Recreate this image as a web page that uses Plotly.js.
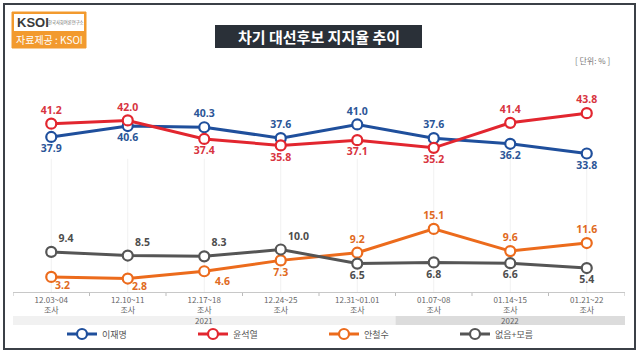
<!DOCTYPE html>
<html><head><meta charset="utf-8">
<script src="https://cdn.plot.ly/plotly-3.0.1.min.js"></script>
<style>html,body{margin:0;padding:0;background:#fff}#c{width:640px;height:354px}</style>
</head><body><div id="c"></div>
<script>
const categories = ["12.03~04","12.10~11","12.17~18","12.24~25","12.31~01.01","01.07~08","01.14~15","01.21~22"];
const tickSuffix = "조사";
const seriesNames = ["이재명","윤석열","안철수","없음+모름"];
const leeJM = [37.9, 40.6, 40.3, 37.6, 41.0, 37.6, 36.2, 33.8];
const yoonSY = [41.2, 42.0, 37.4, 35.8, 37.1, 35.2, 41.4, 43.8];
const ahnCS = [3.2, 2.8, 4.6, 7.3, 9.2, 15.1, 9.6, 11.6];
const noneDK = [9.4, 8.5, 8.3, 10.0, 6.5, 6.8, 6.6, 5.4];
const years = ["2021","2022"];
const yearSpans = [[0,4],[5,7]]; // category index ranges
const chartTitle = "차기 대선후보 지지율 추이";
const unitText = "[ 단위: % ]";
const sourceText = "자료제공 : KSOI";

const colors = ["#1f4f9c","#e2262f","#ec6b1c","#555555"];
const labelColors = ["#2b5597","#d83440","#e06a22","#4d4d4d"];
const posLee = ["bottom center","bottom center","top center","top center","top center","top center","bottom center","bottom center"];
const posYoon = ["top center","top center","bottom center","bottom center","bottom center","bottom center","top center","top center"];
const posAhn = ["bottom right","bottom right","bottom right","bottom center","top center","top center","top center","top center"];
const posNone = ["top right","top right","top right","top right","bottom center","bottom center","bottom center","bottom center"];
const ahnLowCount = 3; // first points labelled by annotation (below-right, tight)
const labelFont = {family:"Noto Sans, sans-serif", size:10.5, weight:700};

const L=13, R=625, T=70, B=292;
const px = x => (x-L)/(R-L);
const py = y => (B-y)/(B-T);

function tr(name, vals, i, pos, skip){
  return {type:"scatter", mode:"lines+markers+text", name:name, x:categories, y:vals,
    text: vals.map((v,j)=> (skip && j<skip) ? "" : v.toFixed(1)), textposition: pos,
    textfont:Object.assign({color:labelColors[i]}, labelFont),
    line:{color:colors[i], width:3},
    marker:{symbol:"circle", size:10, color:"#fff", line:{color:colors[i], width:2.2}},
    cliponaxis:false, hoverinfo:"none"};
}
const data = [tr(seriesNames[0],leeJM,0,posLee), tr(seriesNames[1],yoonSY,1,posYoon),
              tr(seriesNames[2],ahnCS,2,posAhn,ahnLowCount), tr(seriesNames[3],noneDK,3,posNone)];

const shapes = [];
shapes.push({type:"rect", xref:"paper", yref:"paper", x0:px(4), x1:px(635), y0:py(4), y1:py(349), line:{color:"#3b4047", width:2}, layer:"below"});
categories.forEach((c,i)=>shapes.push({type:"line", xref:"x", yref:"paper", x0:i, x1:i, y0:0, y1:0.6, line:{color:"#f1f1f1", width:1}, layer:"below"}));
for(let i=0;i<=categories.length;i++) shapes.push({type:"line", xref:"x", yref:"paper", x0:i-0.5, x1:i-0.5, y0:0, y1:py(296), line:{color:"#bbbbbb", width:1}, layer:"below"});
const bandCols=["#f1f1f1","#dcdcdc"];
yearSpans.forEach((s,k)=>shapes.push({type:"rect", xref:"x", yref:"paper", x0:s[0]-0.5, x1:s[1]+0.5, y0:py(325), y1:py(316), fillcolor:bandCols[k], line:{width:0}, layer:"below"}));
shapes.push({type:"rect", xref:"paper", yref:"paper", x0:px(215), x1:px(422), y0:py(48), y1:py(25), fillcolor:"#2a3038", line:{width:0}, layer:"below"});
shapes.push({type:"rect", xref:"paper", yref:"paper", x0:px(12), x1:px(86), y0:py(48), y1:py(12), fillcolor:"#f29a2e", line:{color:"#f29a2e", width:1}, layer:"below"});
shapes.push({type:"rect", xref:"paper", yref:"paper", x0:px(14), x1:px(84), y0:py(31), y1:py(14), fillcolor:"#ffffff", line:{width:0}, layer:"below"});

const annotations = [];
function ann(o){ annotations.push(Object.assign({xref:"paper", yref:"paper", showarrow:false, xanchor:"center", yanchor:"middle"}, o)); }
// tight below-right labels for the first orange points
const lowShift = [[2,-8],[2,-7],[9,-10]];
for(let j=0;j<ahnLowCount;j++) ann({xref:"x", yref:"y", x:categories[j], y:ahnCS[j], xanchor:"left", xshift:lowShift[j][0], yshift:lowShift[j][1],
  text:ahnCS[j].toFixed(1), font:Object.assign({color:labelColors[2]}, labelFont)});
yearSpans.forEach((s,k)=>ann({xref:"x", x:(s[0]+s[1])/2, y:py(320.5), text:years[k], font:{family:"Noto Sans CJK KR, sans-serif", size:8, color:"#666"}}));
ann({x:px(318.5), y:py(36.5), text:"<b>"+chartTitle+"</b>", font:{family:"Noto Sans CJK KR, sans-serif", size:15, color:"#fff"}});
ann({x:px(612), y:py(60), xanchor:"right", text:unitText, font:{family:"Noto Sans CJK KR, sans-serif", size:8, color:"#777"}});
ann({x:px(49), y:py(39.5), text:sourceText, font:{family:"Noto Sans CJK KR, sans-serif", size:10, color:"#fff"}});
ann({x:px(15), y:py(23), xanchor:"left", text:"<b>KSOI</b>", font:{family:"Liberation Sans Narrow, Liberation Sans, sans-serif", size:13, color:"#3a3a3a"}});
ann({x:px(46), y:py(23), xanchor:"left", text:"한국사회여론연구소", font:{family:"Noto Sans CJK KR, sans-serif", size:4.3, color:"#666"}});

const layout = {
  width:640, height:354, paper_bgcolor:"#fff", plot_bgcolor:"rgba(0,0,0,0)",
  margin:{l:L, r:640-R, t:T, b:354-B, autoexpand:false}, showlegend:true,
  xaxis:{type:"category", range:[-0.5,7.5], showgrid:false, zeroline:false, showline:true, linecolor:"#c8c8c8", linewidth:1,
    ticks:"", tickvals:categories, ticktext:categories.map(c=>c+"<br>"+tickSuffix), automargin:false,
    tickfont:{family:"Noto Sans CJK KR, sans-serif", size:8, color:"#666"}, fixedrange:true},
  yaxis:{range:[-0.54,54.5], visible:false, showgrid:false, zeroline:false, fixedrange:true, automargin:false},
  legend:{orientation:"h", x:px(324), xanchor:"center", y:py(334), yanchor:"middle", entrywidth:86, itemwidth:30,
    font:{family:"Noto Sans CJK KR, sans-serif", size:9, color:"#555"}, bgcolor:"rgba(0,0,0,0)"},
  shapes:shapes, annotations:annotations
};
Plotly.newPlot("c", data, layout, {staticPlot:true, displayModeBar:false});
</script></body></html>
